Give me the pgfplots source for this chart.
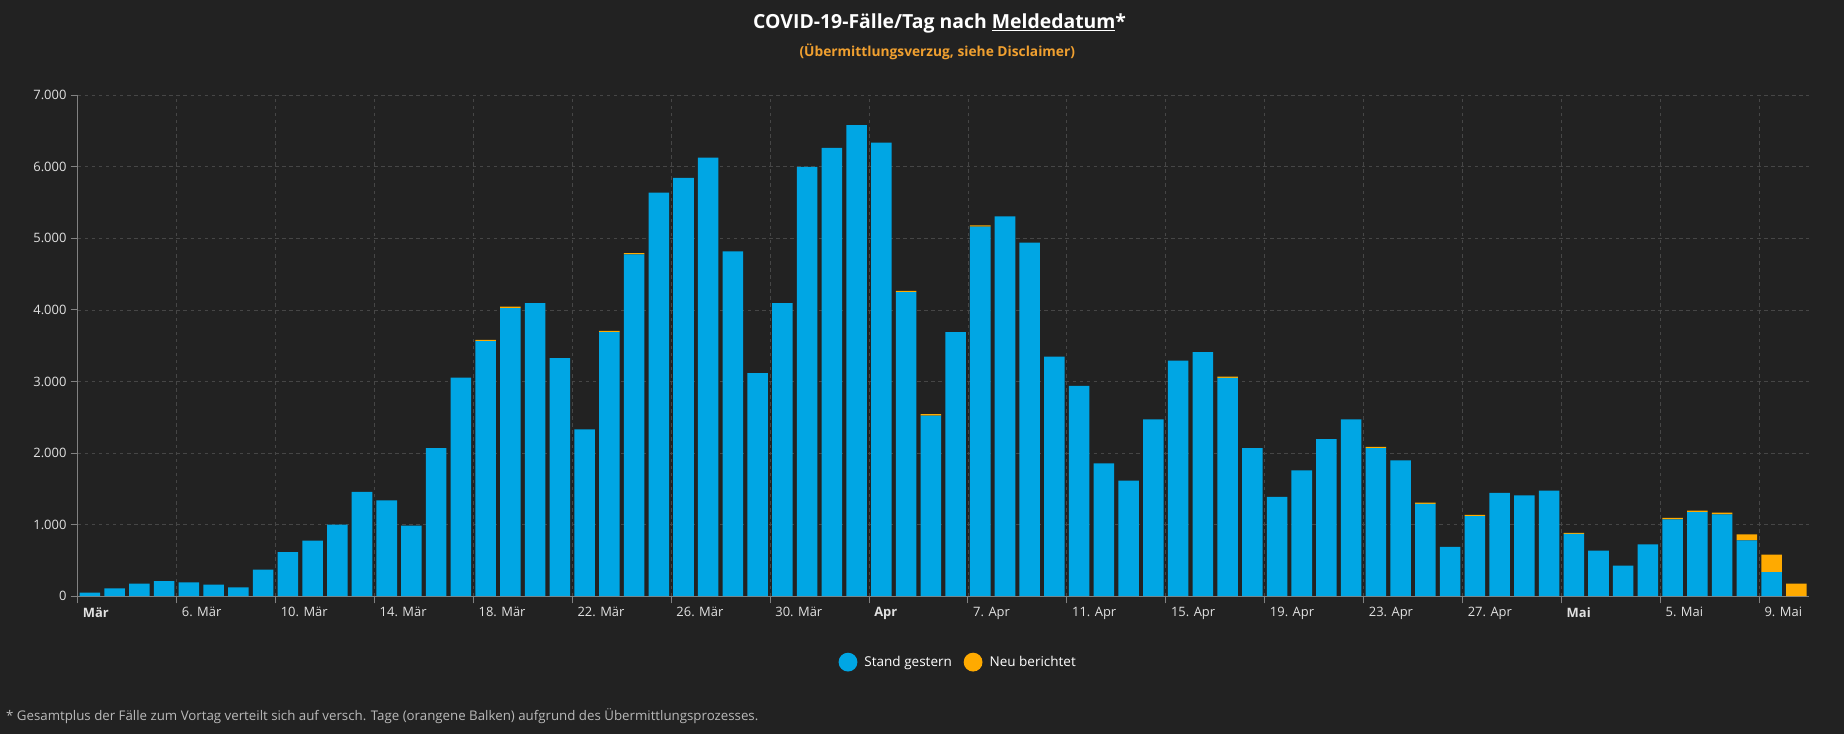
\documentclass[border=0pt]{standalone}
\usepackage{pgfplots}
\pgfplotsset{compat=1.18}
\usepackage{pgfplotstable}
\usepackage{fontspec}
\setmainfont{Open Sans}

\definecolor{bg}{RGB}{34,34,34}
\definecolor{barblue}{RGB}{0,166,228}
\definecolor{barorange}{RGB}{255,170,0}
\definecolor{suborange}{RGB}{240,160,48}
\definecolor{axisgray}{RGB}{130,130,130}
\definecolor{gridgray}{RGB}{70,70,70}
\definecolor{ticktext}{RGB}{225,225,225}
\definecolor{foottext}{RGB}{185,185,185}

% day index k = 0 is 2 Mar, bars centred at k+0.5
\pgfplotstableread{
x     blue  orange
0.5   50    0
1.5   110   0
2.5   178   0
3.5   212   0
4.5   193   0
5.5   164   0
6.5   125   0
7.5   371   0
8.5   617   0
9.5   776   0
10.5  1002  0
11.5  1460  0
12.5  1339  0
13.5  987   0
14.5  2071  0
15.5  3054  0
16.5  3565  18
17.5  4027  20
18.5  4094  0
19.5  3328  0
20.5  2331  0
21.5  3690  19
22.5  4775  20
23.5  5639  0
24.5  5846  0
25.5  6130  0
26.5  4819  0
27.5  3118  0
28.5  4096  0
29.5  6000  0
30.5  6265  0
31.5  6583  0
32.5  6337  0
33.5  4250  18
34.5  2525  18
35.5  3692  0
36.5  5165  18
37.5  5306  0
38.5  4940  0
39.5  3349  0
40.5  2940  0
41.5  1855  0
42.5  1614  0
43.5  2472  0
44.5  3292  0
45.5  3412  0
46.5  3050  20
47.5  2068  0
48.5  1389  0
49.5  1760  0
50.5  2194  0
51.5  2473  0
52.5  2070  18
53.5  1900  0
54.5  1290  17
55.5  690   0
56.5  1120  18
57.5  1446  0
58.5  1408  0
59.5  1475  0
60.5  870   17
61.5  636   0
62.5  429   0
63.5  723   0
64.5  1075  20
65.5  1175  21
66.5  1145  22
67.5  781   82
68.5  338   245
69.5  0     178
}\cases

\begin{document}
\begin{tikzpicture}[x=1pt,y=1pt]
\fill[bg] (0,0) rectangle (1568,624);

\node[text=white, font=\bfseries\fontsize{16.5}{19}\selectfont] at (799,604)
  {COVID-19-Fälle/Tag nach \underline{Meldedatum}*};
\node[text=suborange, font=\bfseries\fontsize{11.7}{14}\selectfont] at (797,580)
  {(Übermittlungsverzug, siehe Disclaimer)};
\node[text=foottext, anchor=west, inner sep=0pt, font=\fontsize{11.3}{13}\selectfont] at (5,15)
  {* Gesamtplus der Fälle zum Vortag verteilt sich auf versch. Tage (orangene Balken) aufgrund des Übermittlungsprozesses.};

\begin{axis}[
  at={(66pt,117pt)}, anchor=south west,
  width=1472pt, height=426pt, scale only axis,
  xmin=0, xmax=70, ymin=0, ymax=7000,
  ybar stacked, bar width=0.83,
  axis lines*=left,
  axis line style={draw=axisgray, line width=0.8pt},
  tick align=outside, major tick length=6pt,
  tick style={draw=axisgray, line width=0.8pt},
  xtick={0,4,...,68},
  xticklabels={\textbf{Mär},6. Mär,10. Mär,14. Mär,18. Mär,22. Mär,26. Mär,30. Mär,
    \textbf{Apr},7. Apr,11. Apr,15. Apr,19. Apr,23. Apr,27. Apr,\textbf{Mai},5. Mai,9. Mai},
  xticklabel style={anchor=north west, xshift=1pt, text=ticktext,
    font=\fontsize{11}{13}\selectfont},
  ytick={0,1000,...,7000},
  scaled y ticks=false,
  /pgf/number format/1000 sep={.},
  /pgf/number format/assume math mode=true,
  yticklabel style={text=ticktext, font=\fontsize{11}{13}\selectfont},
  grid=major,
  grid style={dashed, draw=gridgray, line width=0.6pt},
  legend columns=2,
  legend style={at={(0.5088,-0.1315)}, anchor=center, draw=none, fill=none,
    text=white, font=\fontsize{11.5}{13}\selectfont,
    /tikz/every even column/.append style={column sep=8pt}},
  legend image code/.code={\path[#1] (0pt,0pt) circle (8pt); \path (12pt,0pt);},
]
\addplot[fill=barblue, draw=none] table[x=x, y=blue] {\cases};
\addplot[fill=barorange, draw=none] table[x=x, y=orange] {\cases};
\legend{Stand gestern, Neu berichtet}
\end{axis}
\end{tikzpicture}
\end{document}
